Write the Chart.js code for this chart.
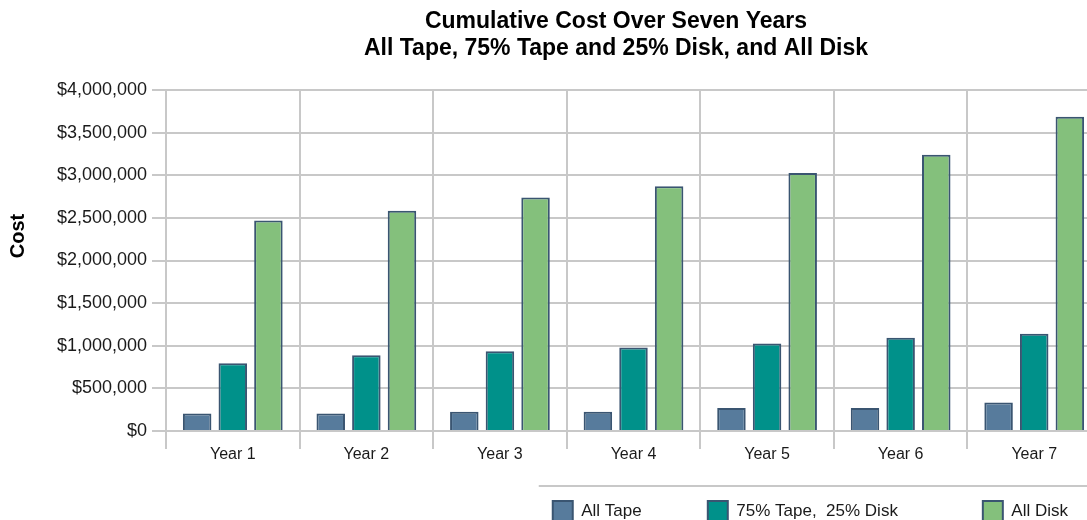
<!DOCTYPE html>
<html>
<head>
<meta charset="utf-8">
<script src="https://cdn.jsdelivr.net/npm/chart.js@4.4.1/dist/chart.umd.min.js"></script>
<style>
  html, body { margin: 0; padding: 0; background: #fff; overflow: hidden; }
  #wrap { width: 1087px; height: 520px; overflow: hidden; position: relative; }
</style>
</head>
<body>
<div id="wrap">
  <canvas id="costChart" width="1110" height="531"></canvas>
</div>
<script>
const titleLines = ['Cumulative Cost Over Seven Years', 'All Tape, 75% Tape and 25% Disk, and All Disk'];
const yAxisTitle = 'Cost';

const years = ['Year 1', 'Year 2', 'Year 3', 'Year 4', 'Year 5', 'Year 6', 'Year 7'];
const seriesNames = ['All Tape', '75% Tape,  25% Disk', 'All Disk'];

const allTape = [205000, 205000, 225000, 225000, 270000, 270000, 335000];
const tapeDiskMix = [795000, 890000, 935000, 980000, 1025000, 1095000, 1140000];
const allDisk = [2470000, 2585000, 2740000, 2870000, 3025000, 3240000, 3685000];

const yTickValues = [0, 500000, 1000000, 1500000, 2000000, 2500000, 3000000, 3500000, 4000000];

const seriesColors = ['#577b9c', '#00918a', '#84c07c'];
const barBorder = '#3a5571';
const gridColor = '#c8c8c8';

// extra blank space after each legend label, the original spaces its items unevenly
const legendTrail = [7, 11, 0];

Chart.defaults.font.family = "'Liberation Sans', Arial, sans-serif";
Chart.defaults.color = '#1a1a1a';

// titles + the rule above the legend are drawn by hand so they sit where the original has them
const extraText = {
    id: 'extraText',
    afterDraw(chart) {
        const ctx = chart.ctx;
        ctx.save();
        ctx.fillStyle = '#000';
        ctx.font = "bold 23px 'Liberation Sans', Arial, sans-serif";
        ctx.textAlign = 'center';
        ctx.textBaseline = 'alphabetic';
        titleLines.forEach((t, i) => ctx.fillText(t, 616, 28 + i * 27));

        ctx.font = "bold 20px 'Liberation Sans', Arial, sans-serif";
        ctx.translate(18, 236);
        ctx.rotate(-Math.PI / 2);
        ctx.textBaseline = 'middle';
        ctx.fillText(yAxisTitle, 0, 0);
        ctx.restore();

        const lg = chart.legend;
        if (lg && lg.legendHitBoxes && lg.legendHitBoxes.length) {
            const x0 = lg.legendHitBoxes[0].left - 14;
            ctx.save();
            ctx.strokeStyle = gridColor;
            ctx.lineWidth = 2;
            ctx.beginPath();
            ctx.moveTo(x0, lg.top + 18);
            ctx.lineTo(chart.width, lg.top + 18);
            ctx.stroke();
            ctx.restore();
        }
    }
};

const ctx = document.getElementById('costChart').getContext('2d');

const costChart = new Chart(ctx, {
    type: 'bar',
    data: {
        labels: years,
        datasets: [
            { label: seriesNames[0], data: allTape, backgroundColor: seriesColors[0] },
            { label: seriesNames[1], data: tapeDiskMix, backgroundColor: seriesColors[1] },
            { label: seriesNames[2], data: allDisk, backgroundColor: seriesColors[2] }
        ]
    },
    options: {
        responsive: false,
        animation: false,
        layout: {
            padding: { top: 90, left: 0, right: 9, bottom: 0 }
        },
        datasets: {
            bar: {
                borderColor: barBorder,
                borderWidth: 2,
                categoryPercentage: 0.80,
                barPercentage: 0.80
            }
        },
        plugins: {
            title: { display: false },
            tooltip: { enabled: false },
            legend: {
                position: 'bottom',
                align: 'end',
                labels: {
                    boxWidth: 20,
                    boxHeight: 20,
                    padding: 33,
                    color: '#1a1a1a',
                    font: { size: 17 },
                    generateLabels: (chart) => {
                        const items = Chart.defaults.plugins.legend.labels.generateLabels(chart);
                        items.forEach((it, i) => { it.text = it.text + ' '.repeat(legendTrail[i]); });
                        return items;
                    }
                }
            }
        },
        scales: {
            x: {
                afterFit: (scale) => { scale.height = 37; },
                grid: {
                    color: gridColor,
                    lineWidth: 2,
                    offset: true,
                    tickLength: 18
                },
                border: { color: gridColor, width: 2 },
                ticks: {
                    padding: -4,
                    color: '#1a1a1a',
                    font: { size: 16 }
                }
            },
            y: {
                min: 0,
                max: 4000000,
                afterFit: (scale) => { scale.width = 166; },
                afterBuildTicks: (scale) => {
                    scale.ticks = yTickValues.map(v => ({ value: v }));
                },
                grid: {
                    color: gridColor,
                    lineWidth: 2,
                    tickLength: 14
                },
                border: { color: gridColor, width: 2 },
                ticks: {
                    padding: 5,
                    color: '#1a1a1a',
                    font: { size: 18 },
                    callback: (v) => '$' + Number(v).toLocaleString('en-US')
                }
            }
        }
    },
    plugins: [extraText]
});
</script>
</body>
</html>
